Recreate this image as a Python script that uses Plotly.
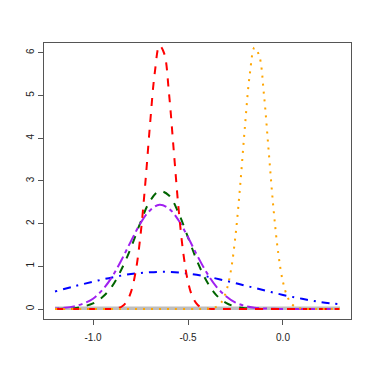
import plotly.graph_objects as go

# ---- data ----
red_x = [-1.2, -1.1, -1.0, -0.9, -0.875, -0.85, -0.825, -0.8, -0.775, -0.75, -0.725, -0.7,
         -0.675, -0.65, -0.625, -0.6, -0.575, -0.55, -0.525, -0.5, -0.475, -0.45, -0.425,
         -0.4, -0.375, -0.3, -0.2, -0.1, 0.0, 0.1, 0.2, 0.3]
red_y = [0, 0, 0, 0.004, 0.016, 0.053, 0.155, 0.40, 0.89, 1.73, 2.93, 4.32,
         5.53, 6.17, 5.98, 5.05, 3.71, 2.37, 1.32, 0.64, 0.27, 0.10, 0.03,
         0.009, 0.002, 0, 0, 0, 0, 0, 0, 0]

orange_x = [-1.2, -1.0, -0.8, -0.6, -0.4, -0.375, -0.35, -0.325, -0.3, -0.275, -0.25, -0.225,
            -0.2, -0.175, -0.15, -0.125, -0.1, -0.075, -0.05, -0.025, 0.0, 0.025, 0.05,
            0.075, 0.1, 0.125, 0.2, 0.3]
orange_y = [0, 0, 0, 0, 0.004, 0.016, 0.053, 0.15, 0.40, 0.88, 1.72, 2.91,
            4.29, 5.49, 6.12, 5.93, 5.01, 3.68, 2.35, 1.31, 0.63, 0.27, 0.10,
            0.03, 0.009, 0.002, 0, 0]

wide_x = [-1.2, -1.15, -1.1, -1.05, -1.0, -0.95, -0.9, -0.85, -0.8, -0.75, -0.7, -0.65,
          -0.6, -0.55, -0.5, -0.45, -0.4, -0.35, -0.3, -0.25, -0.2, -0.15, -0.1, -0.05,
          0.0, 0.05, 0.1, 0.15, 0.2, 0.25, 0.3]
green_y = [0.002, 0.006, 0.02, 0.06, 0.13, 0.28, 0.53, 0.93, 1.44, 2.03, 2.53, 2.76,
           2.66, 2.25, 1.68, 1.10, 0.64, 0.32, 0.145, 0.057, 0.02, 0.006, 0.002, 0,
           0, 0, 0, 0, 0, 0, 0]
purple_y = [0.010, 0.027, 0.062, 0.13, 0.24, 0.45, 0.75, 1.15, 1.59, 2.01, 2.31, 2.44,
            2.35, 2.08, 1.68, 1.24, 0.84, 0.52, 0.30, 0.15, 0.073, 0.032, 0.013, 0.005,
            0.002, 0, 0, 0, 0, 0, 0]

blue_x = [-1.2, -1.1, -1.0, -0.9, -0.8, -0.7, -0.6, -0.5, -0.4, -0.3, -0.2, -0.1,
          0.0, 0.1, 0.2, 0.3]
blue_y = [0.41, 0.53, 0.64, 0.74, 0.82, 0.86, 0.87, 0.83, 0.76, 0.66, 0.55, 0.44,
          0.33, 0.24, 0.16, 0.11]

gray_x = [-1.2, -0.8, -0.4, 0.0, 0.3]
gray_y = [0.015, 0.015, 0.015, 0.015, 0.015]

x_tick_vals = [-1.0, -0.5, 0.0]
x_tick_text = ["-1.0", "-0.5", "0.0"]
y_tick_vals = [0, 1, 2, 3, 4, 5, 6]
y_tick_text = ["0", "1", "2", "3", "4", "5", "6"]

fig = go.Figure()
fig.add_trace(go.Scatter(x=gray_x, y=gray_y, mode="lines",
                         line=dict(color="#BEBEBE", width=3.5)))
fig.add_trace(go.Scatter(x=blue_x, y=blue_y, mode="lines", line_shape="spline",
                         line=dict(color="#0000FF", width=2, dash="2px,6px,8px,6px")))
fig.add_trace(go.Scatter(x=wide_x, y=green_y, mode="lines", line_shape="spline",
                         line=dict(color="#006400", width=2, dash="8px,8px")))
fig.add_trace(go.Scatter(x=wide_x, y=purple_y, mode="lines", line_shape="spline",
                         line=dict(color="#A020F0", width=2, dash="4px,4px,12px,4px")))
fig.add_trace(go.Scatter(x=red_x, y=red_y, mode="lines", line_shape="spline",
                         line=dict(color="#FF0000", width=2, dash="8px,8px")))
fig.add_trace(go.Scatter(x=orange_x, y=orange_y, mode="lines", line_shape="spline",
                         line=dict(color="#FFA500", width=2, dash="2px,6px")))

axis_common = dict(showgrid=False, zeroline=False, showline=True, mirror=True,
                   linecolor="#555555", linewidth=1, ticks="outside", ticklen=5,
                   tickcolor="#555555", tickfont=dict(family="Liberation Sans, Arial", size=10,
                                                      color="#222222"))
fig.update_layout(
    width=366, height=366,
    margin=dict(l=36, r=23, t=35, b=55),
    paper_bgcolor="white", plot_bgcolor="white",
    showlegend=False,
    xaxis=dict(range=[-1.258, 0.358], tickmode="array", tickvals=x_tick_vals,
               ticktext=x_tick_text, ticklabelstandoff=4, **axis_common),
    yaxis=dict(range=[-0.234, 6.23], tickmode="array", tickvals=y_tick_vals,
               ticktext=y_tick_text, tickangle=-90, **axis_common),
)
fig.write_html("out.html")
